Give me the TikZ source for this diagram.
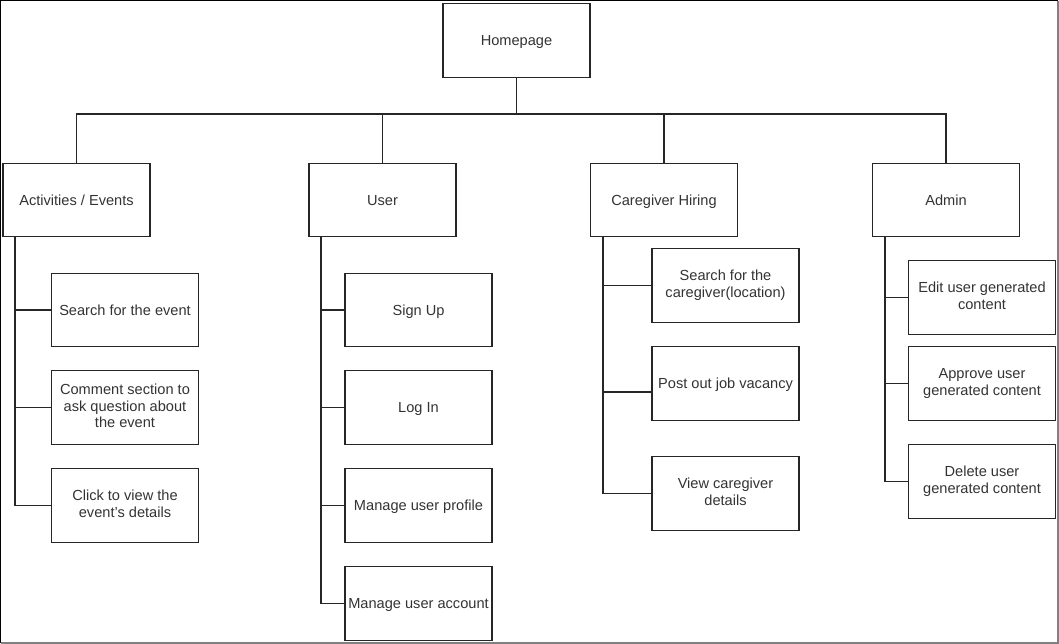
\documentclass[tikz,border=0pt]{standalone}
\usepackage{fontspec}
\setmainfont{Liberation Sans}
\definecolor{ink}{HTML}{333333}
\newcommand\vstr{\rule[-3.2pt]{0pt}{16.7pt}}
\begin{document}
\begin{tikzpicture}[x=1pt,y=-1pt,
  box/.style={draw=black!85, line width=1.2pt, minimum width=147pt, minimum height=73.5pt,
    align=center, inner sep=0pt, text=ink, font=\fontsize{14.6}{16.8}\selectfont,
    execute at begin node=\vstr, execute at end node=\vstr},
  link/.style={draw=black!85, line width=1.2pt}]
\useasboundingbox (0,0) rectangle (1059,644);
% frame
\draw[black, line width=1.2pt] (0.6,643) -- (0.6,0.6) -- (1058,0.6);
\draw[gray, line width=1.2pt] (1058,0.6) -- (1058,643) -- (0.6,643);
% top level
\node[box] (home) at (516.5,40.5) {Homepage};
\node[box] (act) at (76.5,200) {Activities / Events};
\node[box] (user) at (382.5,200) {User};
\node[box] (care) at (664,200) {Caregiver Hiring};
\node[box] (admin) at (946,200) {Admin};
\coordinate (bus) at (516.5,114);
\draw[link] (home.south) -- (bus);
\draw[link] (act.north) |- (admin.north |- bus) -- (admin.north);
\draw[link] (user.north) -- (user.north |- bus);
\draw[link] (care.north) -- (care.north |- bus);
% activities children
\node[box] (a1) at (125,310) {Search for the event};
\node[box] (a2) at (125,407.5) {Comment section to\\ask question about\\the event};
\node[box] (a3) at (125,505.5) {Click to view the\\event's details};
\coordinate (at) at (15,237);
\draw[link] (at) |- (a3.west);
\draw[link] (a1.west -| at) -- (a1.west);
\draw[link] (a2.west -| at) -- (a2.west);
% user children
\node[box] (u1) at (418.5,310) {Sign Up};
\node[box] (u2) at (418.5,407.5) {Log In};
\node[box] (u3) at (418.5,505.5) {Manage user profile};
\node[box] (u4) at (418.5,603.5) {Manage user account};
\coordinate (ut) at (321,237);
\draw[link] (ut) |- (u4.west);
\draw[link] (u1.west -| ut) -- (u1.west);
\draw[link] (u2.west -| ut) -- (u2.west);
\draw[link] (u3.west -| ut) -- (u3.west);
% caregiver children
\node[box] (c1) at (725.5,285.5) {Search for the\\caregiver(location)};
\node[box] (c2) at (725.5,383.5) {Post out job vacancy};
\node[box] (c3) at (725.5,493.5) {View caregiver\\details};
\coordinate (ct) at (603,237);
\coordinate (c2in) at ([yshift=-8.5pt]c2.west);
\draw[link] (ct) |- (c3.west);
\draw[link] (c1.west -| ct) -- (c1.west);
\draw[link] (c2in -| ct) -- (c2in);
% admin children
\node[box] (d1) at (982,297.5) {Edit user generated\\content};
\node[box] (d2) at (982,383.5) {Approve user\\generated content};
\node[box] (d3) at (982,481.5) {Delete user\\generated content};
\coordinate (dt) at (885,237);
\draw[link] (dt) |- (d3.west);
\draw[link] (d1.west -| dt) -- (d1.west);
\draw[link] (d2.west -| dt) -- (d2.west);
\end{tikzpicture}
\end{document}
